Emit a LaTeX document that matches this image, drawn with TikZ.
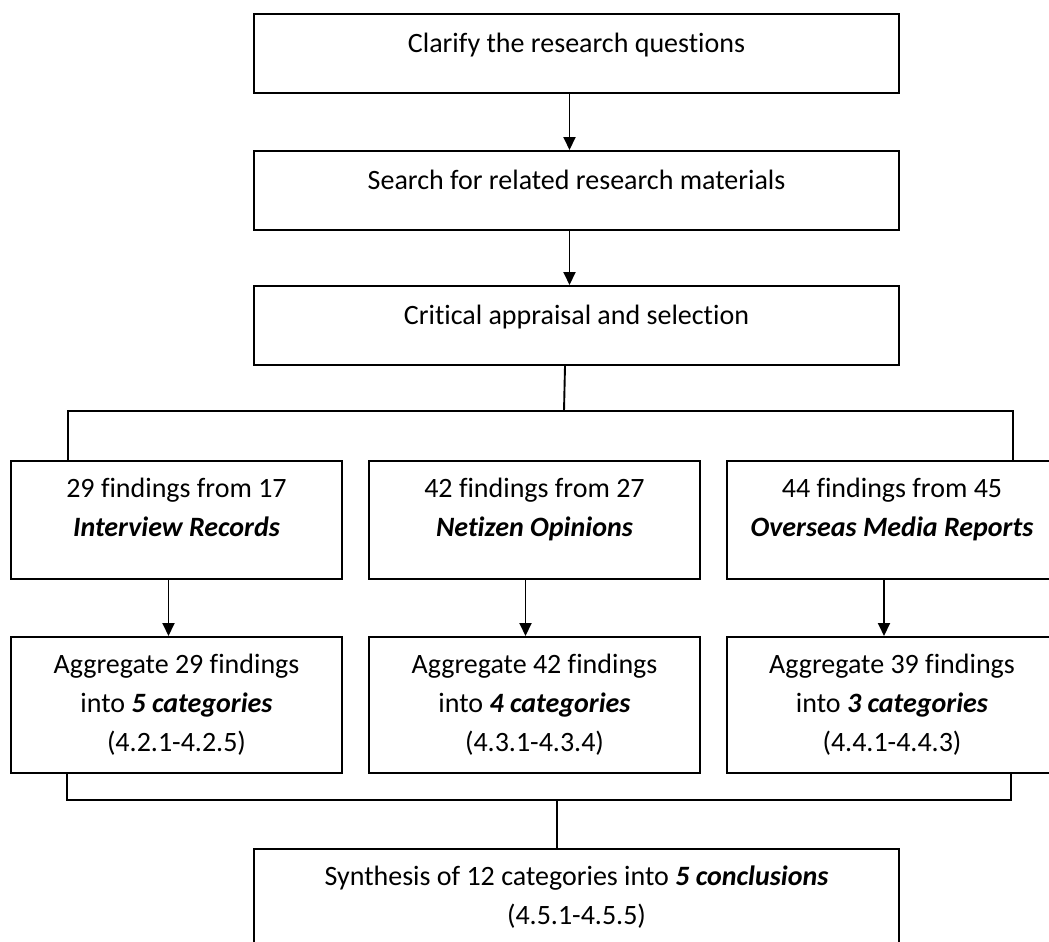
\documentclass[tikz,border=0pt]{standalone}
\usepackage{fontspec}
\setmainfont{Carlito}[Ligatures=NoCommon]
\usetikzlibrary{arrows.meta,calc}

\begin{document}
\begin{tikzpicture}[x=1bp,y=-1bp,
  box/.style={draw, line width=2bp, inner sep=0pt, anchor=north west},
  wide/.style={box, minimum width=645bp, minimum height=79bp},
  srcbox/.style={box, minimum width=331bp, minimum height=118bp},
  aggbox/.style={box, minimum width=331bp, minimum height=136bp},
  txt/.style={anchor=north, align=center, inner sep=0pt,
    font=\fontsize{28bp}{39bp}\selectfont,
    execute at begin node={\rule{0pt}{22bp}}},
  link/.style={line width=1.9bp},
  arr/.style={link, -{Triangle[width=12bp,length=13bp]}}]
\clip (0,0) rectangle (1049,942);
\fill[white] (0,0) rectangle (1049,942);

% main sequence
\node[wide] (b1) at (253,13) {};
\node[wide] (b2) at (253,150) {};
\node[wide] (b3) at (253,285) {};
\node[txt] (t1) at ([yshift=-17.5bp]b1.north) {Clarify the research questions};
\node[txt] (t2) at ([yshift=-17.5bp]b2.north) {Search for related research materials};
\node[txt] (t3) at ([yshift=-17.5bp]b3.north) {Critical appraisal and selection};

% three sources
\node[srcbox] (f1) at (10,460) {};
\node[srcbox] (f2) at (368,460) {};
\node[srcbox, minimum width=330bp] (f3) at (726,460) {};
\node[txt] (tf1) at ([yshift=-17.5bp]f1.north) {29 findings from 17\\\textbf{\textit{Interview Records}}};
\node[txt] (tf2) at ([yshift=-17.5bp]f2.north) {42 findings from 27\\\textbf{\textit{Netizen Opinions}}};
\node[txt] (tf3) at ([yshift=-17.5bp]f3.north) {44 findings from 45\\\textbf{\textit{Overseas Media Reports}}};

% aggregation
\node[aggbox] (a1) at (10,636) {};
\node[aggbox] (a2) at (368,636) {};
\node[aggbox, minimum width=330bp] (a3) at (726,636) {};
\node[txt] (ta1) at ([yshift=-17.5bp]a1.north) {Aggregate 29 findings\\into \textbf{\textit{5 categories}}\\(4.2.1-4.2.5)};
\node[txt] (ta2) at ([yshift=-17.5bp]a2.north) {Aggregate 42 findings\\into \textbf{\textit{4 categories}}\\(4.3.1-4.3.4)};
\node[txt] (ta3) at ([yshift=-17.5bp]a3.north) {Aggregate 39 findings\\into \textbf{\textit{3 categories}}\\(4.4.1-4.4.3)};

% synthesis
\node[box, minimum width=645bp, minimum height=120bp] (s) at (253,848) {};
\node[txt] (ts) at ([yshift=-17.5bp]s.north) {Synthesis of 12 categories into \textbf{\textit{5 conclusions}}\\(4.5.1-4.5.5)};

% arrows along the main sequence
\draw[arr] ([xshift=-7bp]b1.south) -- ([xshift=-7bp]b2.north);
\draw[arr] ([xshift=-7bp]b2.south) -- ([xshift=-7bp]b3.north);

% branching to the three sources
\coordinate (split) at (564,411);
\coordinate (splitL) at (68,411);
\coordinate (splitR) at (1013,411);
\draw[link] ([xshift=-11.5bp]b3.south) -- (split);
\draw[link] (f1.north -| splitL) -- (splitL) -- (splitR) -- (f3.north -| splitR);

% source to aggregation
\draw[arr] ([xshift=-8bp]f1.south) -- ([xshift=-8bp]a1.north);
\draw[arr] ([xshift=-9bp]f2.south) -- ([xshift=-9bp]a2.north);
\draw[arr] ([xshift=-8bp]f3.south) -- ([xshift=-8bp]a3.north);

% merging into the synthesis
\coordinate (mergeL) at (67,800);
\coordinate (mergeR) at (1011,800);
\coordinate (merge) at (557,800);
\draw[link] (a1.south -| mergeL) -- (mergeL) -- (mergeR) -- (a3.south -| mergeR);
\draw[link] (merge) -- (s.north -| merge);
\end{tikzpicture}
\end{document}
